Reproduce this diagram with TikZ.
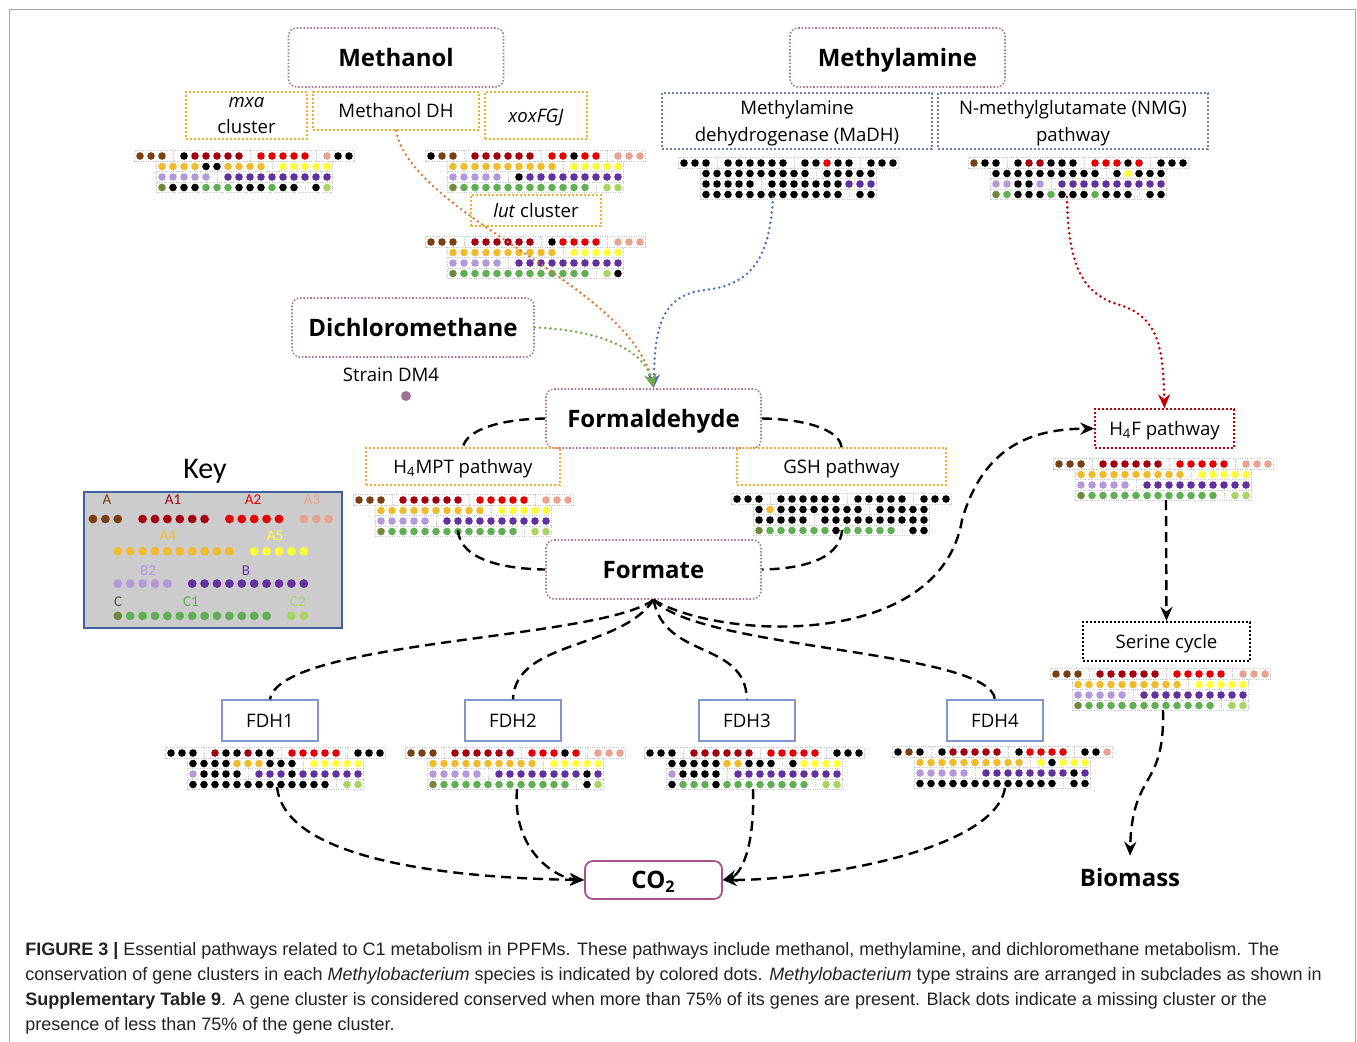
\documentclass[tikz,border=0pt]{standalone}
\usepackage{fontspec}
\setmainfont{Open Sans}
\newfontfamily\capfont{Liberation Sans}
\newfontfamily\keyfont{Carlito}
\usetikzlibrary{arrows.meta}
\definecolor{mn}{HTML}{7B3F14}
\definecolor{mr}{HTML}{A50010}
\definecolor{mR}{HTML}{E60000}
\definecolor{ms}{HTML}{E8A290}
\definecolor{mo}{HTML}{F0BC2C}
\definecolor{my}{HTML}{FFFF33}
\definecolor{ml}{HTML}{B598DC}
\definecolor{mp}{HTML}{6330A0}
\definecolor{mv}{HTML}{6E8A3A}
\definecolor{mg}{HTML}{5EB052}
\definecolor{mG}{HTML}{A8D460}
\definecolor{mk}{HTML}{000000}
\definecolor{pinkb}{HTML}{B07898}
\definecolor{orgb}{HTML}{F0B030}
\definecolor{blueb}{HTML}{7080B0}
\definecolor{fdhb}{HTML}{7F96CF}
\definecolor{redb}{HTML}{C00000}
\definecolor{co2b}{HTML}{A8508A}
\definecolor{orline}{HTML}{E07830}
\definecolor{blline}{HTML}{4472C4}
\definecolor{grline}{HTML}{70AD47}
\definecolor{keyfill}{HTML}{CCCCCC}
\definecolor{keyedge}{HTML}{4060A0}
\definecolor{captxt}{HTML}{222222}
\definecolor{dmfour}{HTML}{A0709A}
\definecolor{keyC}{HTML}{4A6030}

\newcommand{\dotsrows}[6]{%
\begin{scope}[shift={(#1,#2)}]
\edef\rowA{#3}\edef\rowB{#4}\edef\rowC{#5}\edef\rowD{#6}
\foreach \c [count=\i] in \rowA {\pgfmathsetmacro\xx{(\i+(\i>3)+(\i>9)+(\i>14)-1)*\px}\edef\cc{m\c}\fill[fill=\cc] (\xx,0) circle[radius=\pr];}
\foreach \c [count=\i] in \rowB {\pgfmathsetmacro\xx{(\i+2+(\i>10)-1)*\px}\edef\cc{m\c}\fill[fill=\cc] (\xx,{\py}) circle[radius=\pr];}
\foreach \c [count=\i] in \rowC {\pgfmathsetmacro\xx{(\i+2+(\i>5)-1)*\px}\edef\cc{m\c}\fill[fill=\cc] (\xx,{2*\py}) circle[radius=\pr];}
\foreach \c [count=\i] in \rowD {\pgfmathsetmacro\xx{(\i+2+(\i>13)-1)*\px}\edef\cc{m\c}\fill[fill=\cc] (\xx,{3*\py}) circle[radius=\pr];}
\end{scope}}

\newcommand{\dmat}[6]{%
\begin{scope}[shift={(#1,#2)}]
\draw[gridl] (-5.5,-5.25) rectangle (214.5,5.25);
\draw[gridl] (16.5,5.25) rectangle (192.5,36.75);
\draw[gridl] (16.5,15.75) -- (192.5,15.75) (16.5,26.25) -- (192.5,26.25);
\draw[gridl] (33,-5.25) -- (33,5.25) (110,-5.25) -- (110,5.25) (176,-5.25) -- (176,5.25);
\draw[gridl] (132,5.25) -- (132,15.75) (77,15.75) -- (77,26.25) (165,26.25) -- (165,36.75);
\end{scope}
\def\px{11}\def\py{10.5}\def\pr{1.9pt}%
\dotsrows{#1}{#2}{#3}{#4}{#5}{#6}}

\def\FA{n,n,n,r,r,r,r,r,r,R,R,R,R,R,s,s,s}
\def\FB{o,o,o,o,o,o,o,o,o,o,y,y,y,y,y}
\def\FC{l,l,l,l,l,p,p,p,p,p,p,p,p,p,p}
\def\FD{v,g,g,g,g,g,g,g,g,g,g,g,g,G,G}
\def\KK{k,k,k,k,k,k,k,k,k,k,k,k,k,k,k}

\begin{document}
\begin{tikzpicture}[x=0.5pt,y=-0.5pt,
  gridl/.style={draw=gray!45, dash pattern=on 0.5pt off 0.7pt, line width=0.35pt},
  bigbox/.style={draw=pinkb, dash pattern=on 0.8pt off 0.9pt, rounded corners=4pt, line width=0.8pt, inner sep=0pt,
     minimum width=107.5pt, minimum height=29.5pt, font=\bfseries\fontsize{12}{14}\selectfont,
     text height=8.6pt, text depth=0pt},
  obox/.style={draw=orgb, dash pattern=on 1pt off 1pt, line width=0.7pt, inner sep=0pt, align=center,
     font=\fontsize{9.3}{13.2}\selectfont},
  oneline/.style={text height=6.7pt, text depth=0pt},
  bbox/.style={obox, draw=blueb, text depth=-0.8pt},
  rbox/.style={obox, oneline, draw=redb, minimum width=69.5pt, minimum height=19.5pt},
  sbox/.style={obox, oneline, draw=black, line width=1.1pt, minimum width=83.5pt, minimum height=19.5pt},
  fbox/.style={draw=fdhb, line width=0.6pt, inner sep=0pt, minimum width=48pt, minimum height=20.5pt,
     font=\fontsize{9.3}{11}\selectfont, oneline},
  co2box/.style={draw=co2b, line width=0.9pt, rounded corners=4pt, inner sep=0pt, minimum width=68.5pt,
     minimum height=19pt, font=\bfseries\fontsize{12}{14}\selectfont, text height=8.6pt, text depth=0pt},
  dotl/.style={line width=1.4pt, dash pattern=on 0pt off 2.6pt, line cap=round},
  dl/.style={line width=1.2pt, dash pattern=on 5pt off 3pt},
  arr/.style={-{Stealth[length=7pt,width=6pt]}},
  klab/.style={font=\keyfont\fontsize{7.5}{9}\selectfont, inner sep=0pt},
  capl/.style={anchor=base west, inner sep=0pt, text=captxt, font=\capfont\fontsize{9.0}{10}\selectfont}
]
\useasboundingbox (0,0) rectangle (1357,1041);
\draw[gray!70, line width=0.5pt] (9,9) rectangle (1355,1070);

% ---------- top boxes ----------
\node[bigbox] (meth) at (396,57.5) {Methanol};
\node[obox, text depth=-2.5pt, minimum width=60.5pt, minimum height=23.5pt] (mxa) at (246.5,115.5) {\textit{mxa}\\cluster};
\node[obox, oneline, minimum width=83pt, minimum height=19pt] (mdh) at (396,111) {Methanol DH};
\node[obox, oneline, minimum width=51pt, minimum height=23.5pt] (xox) at (536,115.5) {\textit{xoxFGJ}};
\node[bigbox] (mam) at (897.5,57.5) {Methylamine};
\node[bbox, minimum width=135pt, minimum height=28pt] (madh) at (797,121) {Methylamine\\dehydrogenase (MaDH)};
\node[bbox, minimum width=135pt, minimum height=28pt] (nmg) at (1073,121) {N-methylglutamate (NMG)\\pathway};
\node[obox, oneline, minimum width=65pt, minimum height=15.5pt] (lut) at (536,210.5) {\textit{lut} cluster};
\node[bigbox, minimum width=121pt] (dcm) at (413,327.5) {Dichloromethane};
\node[font=\fontsize{9.3}{11}\selectfont, inner sep=0pt] (dm4) at (391,375) {Strain DM4};
\node[circle, fill=dmfour, inner sep=0pt, minimum size=5pt] (dm4dot) at (406,396) {};
\node[bigbox] (fald) at (653.5,418.5) {Formaldehyde};
\node[obox, oneline, minimum width=97pt, minimum height=18.5pt] (h4mpt) at (463,466.5) {H\textsubscript{4}MPT pathway};
\node[obox, oneline, minimum width=104.5pt, minimum height=18.5pt] (gsh) at (841.5,466.5) {GSH pathway};
\node[bigbox] (fmt) at (653.5,569.5) {Formate};
\node[rbox] (h4f) at (1164.5,428.5) {H\textsubscript{4}F pathway};
\node[sbox] (ser) at (1166.5,641.5) {Serine cycle};
\node[fbox] (fdh1) at (270,720.5) {FDH1};
\node[fbox] (fdh2) at (513,720.5) {FDH2};
\node[fbox] (fdh3) at (747,720.5) {FDH3};
\node[fbox] (fdh4) at (995,720.5) {FDH4};
\node[co2box] (co2) at (653.5,880) {CO\textsubscript{2}};
\node[font=\bfseries\fontsize{12}{14}\selectfont, inner sep=0pt, outer sep=6pt] (bio) at (1130,877) {Biomass};

% ---------- key ----------
\node[font=\keyfont\fontsize{15}{18}\selectfont, inner sep=0pt] (keyt) at (205,471) {Key};
\node[draw=keyedge, fill=keyfill, line width=1pt, minimum width=129pt, minimum height=68pt, inner sep=0pt] (keybox) at (213,560) {};
\node[klab, text=mn] (kA) at (107,500) {A};
\node[klab, text=mr] (kA1) at (173,500) {A1};
\node[klab, text=mR] (kA2) at (253,500) {A2};
\node[klab, text=ms] (kA3) at (312,500) {A3};
\node[klab, text=mo] (kA4) at (168,536) {A4};
\node[klab, text=my] (kA5) at (275,536) {A5};
\node[klab, text=ml] (kB2) at (148,571) {B2};
\node[klab, text=mp] (kB) at (246,571) {B};
\node[klab, text=keyC] (kC) at (118,602) {C};
\node[klab, text=mg] (kC1) at (191,602) {C1};
\node[klab, text=mG] (kC2) at (298,602) {C2};
\def\px{12.4}\def\py{32.3}\def\pr{2.2pt}
\dotsrows{93}{519}{\FA}{\FB}{\FC}{\FD}

% ---------- matrices ----------
\dmat{140}{156}{n,n,n,k,r,r,r,r,r,R,R,R,R,R,s,k,k}{o,o,o,o,k,k,o,o,o,o,y,y,y,y,y}{\FC}{v,k,k,k,g,g,g,k,k,k,g,k,k,k,G}
\dmat{431}{156}{k,n,n,r,r,r,r,r,r,R,R,k,R,R,s,s,s}{\FB}{l,l,l,l,l,k,p,p,p,p,p,p,p,p,p}{\FD}
\dmat{431}{242}{n,n,n,r,r,r,r,r,r,k,R,R,R,R,s,s,s}{\FB}{\FC}{v,g,g,g,g,g,g,g,g,g,g,g,g,G,k}
\dmat{684}{163}{k,k,k,k,k,k,k,k,k,k,k,R,k,k,k,k,k}{\KK}{k,k,k,k,k,k,k,k,k,k,k,k,p,p,p}{\KK}
\dmat{974}{163}{n,k,k,k,r,r,k,k,k,R,R,R,k,R,k,k,k}{k,k,k,k,k,k,k,k,k,k,k,y,k,k,k}{l,l,k,k,l,p,p,p,p,p,p,p,p,p,p}{v,g,k,k,k,g,k,k,k,g,k,k,k,k,k}
\dmat{359}{500}{\FA}{\FB}{\FC}{\FD}
\dmat{737}{499}{k,k,k,k,k,k,k,k,k,k,k,k,k,k,k,k,k}{k,o,k,k,k,k,k,k,k,k,k,k,k,k,k}{\KK}{v,g,g,g,g,g,g,k,g,g,g,g,g,k,k}
\dmat{1059}{464}{\FA}{\FB}{\FC}{\FD}
\dmat{1056}{674}{\FA}{\FB}{\FC}{\FD}
\dmat{171}{753}{k,k,k,r,k,k,r,k,k,R,R,R,R,R,k,k,k}{k,k,k,k,o,o,o,k,k,k,y,y,y,y,y}{l,k,k,k,k,p,p,p,k,p,p,p,p,p,p}{k,k,k,k,k,k,k,k,k,k,k,k,k,G,G}
\dmat{411}{753}{n,n,n,r,r,r,r,r,r,R,R,R,k,R,s,s,s}{\FB}{l,l,l,l,l,p,p,p,p,p,p,p,p,k,p}{v,g,g,g,g,g,g,g,g,g,g,g,g,k,G}
\dmat{650}{753}{k,k,k,r,r,r,r,r,r,R,R,R,R,R,k,k,k}{k,k,k,k,k,o,o,k,k,k,k,y,y,y,y}{l,k,k,k,k,p,p,p,p,p,p,p,p,p,p}{k,g,g,g,k,g,g,g,g,g,g,g,g,G,G}
\dmat{898}{752}{k,n,k,k,r,r,r,r,r,k,R,R,R,R,k,k,s}{o,o,o,o,o,o,o,o,o,o,y,k,y,y,y}{l,l,l,l,l,p,p,p,p,p,p,p,p,k,p}{\KK}

% ---------- coordinates at matrix ends ----------
\coordinate (m4b) at (773,197);
\coordinate (m5b) at (1067,197);
\coordinate (m6b) at (458,530);
\coordinate (m7b) at (842,530);
\coordinate (m8b) at (1166,500);
\coordinate (m9b) at (1163,710);
\coordinate (m10b) at (277,787);
\coordinate (m11b) at (517,789);
\coordinate (m12b) at (753,789);
\coordinate (m13b) at (1005,788);

% ---------- connectors ----------
\draw[dotl, draw=orline, arr] (mdh.south) .. controls (412,215) and (630,285) .. (fald.north);
\draw[dotl, draw=blline, arr] (m4b) .. controls (770,260) and (750,285) .. (705,290) .. controls (660,295) and (655,330) .. (fald.north);
\draw[dotl, draw=grline, arr] (dcm.east) .. controls (600,330) and (645,350) .. (fald.north);
\draw[dotl, draw=redb, arr] (m5b) .. controls (1068,270) and (1085,295) .. (1120,305) .. controls (1160,318) and (1163,350) .. (h4f.north);

\draw[dl] (fald.west) .. controls (500,419) and (466,430) .. (h4mpt.north);
\draw[dl] (fald.east) .. controls (806,419) and (840,430) .. (gsh.north);
\draw[dl] (m6b) .. controls (460,562) and (510,569) .. (fmt.west);
\draw[dl] (m7b) .. controls (840,562) and (795,569) .. (fmt.east);
\draw[dl, arr] (fmt.south) .. controls (720,640) and (940,650) .. (962,520) .. controls (985,440) and (1040,429) .. (h4f.west);
\draw[dl] (fmt.south) .. controls (600,640) and (280,640) .. (fdh1.north);
\draw[dl] (fmt.south) .. controls (620,650) and (515,640) .. (fdh2.north);
\draw[dl] (fmt.south) .. controls (665,660) and (745,640) .. (fdh3.north);
\draw[dl] (fmt.south) .. controls (700,650) and (990,650) .. (fdh4.north);
\draw[dl, arr] (m10b) .. controls (285,860) and (450,878) .. (co2.west);
\draw[dl, arr] (m11b) .. controls (512,850) and (555,878) .. (co2.west);
\draw[dl, arr] (m12b) .. controls (755,850) and (740,875) .. (co2.east);
\draw[dl, arr] (m13b) .. controls (995,850) and (820,880) .. (co2.east);
\draw[dl, arr] (m8b) -- (ser.north);
\draw[dl, arr] (m9b) .. controls (1165,790) and (1132,770) .. (bio.north);

% ---------- caption ----------
\node[capl] (cap1) at (25,955) {\textbf{FIGURE 3 |} Essential pathways related to C1 metabolism in PPFMs. These pathways include methanol, methylamine, and dichloromethane metabolism. The};
\node[capl] (cap2) at (25,980) {conservation of gene clusters in each \textit{Methylobacterium} species is indicated by colored dots. \textit{Methylobacterium} type strains are arranged in subclades as shown in};
\node[capl] (cap3) at (25,1005) {\textbf{Supplementary Table 9}. A gene cluster is considered conserved when more than 75\% of its genes are present. Black dots indicate a missing cluster or the};
\node[capl] (cap4) at (25,1030) {presence of less than 75\% of the gene cluster.};
\end{tikzpicture}
\end{document}
